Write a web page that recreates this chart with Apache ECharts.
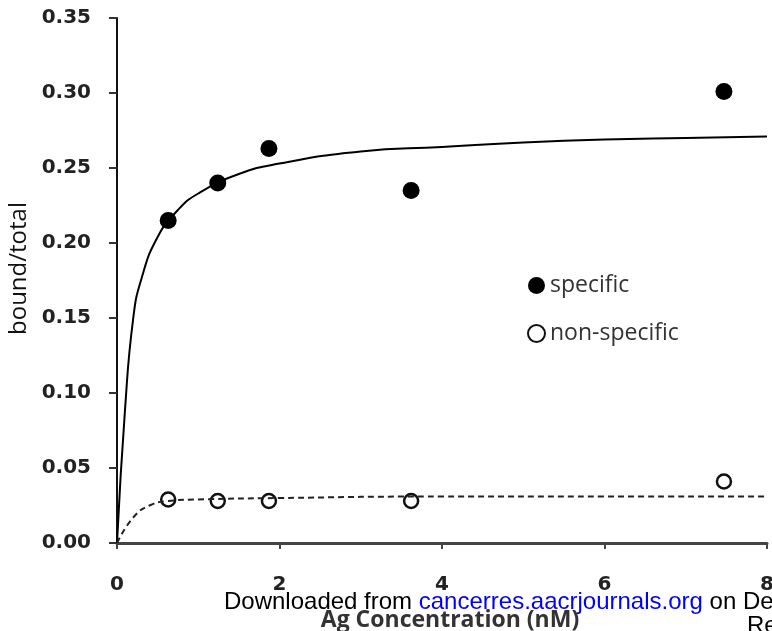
<!DOCTYPE html>
<html lang="en">
<head>
	<meta charset="UTF-8">
	<title>bound/total</title>
	<style type="text/css">
	body,html{
		width: 100%;
		height: 100%;
		margin: 0;
		padding: 0;
		background: #fff;
	}
	#container{
		width: 772px;
		height: 631px;
	}
	</style>
</head>
<body>
	<div id="container"></div>
<script type="text/javascript" src="https://cdn.jsdelivr.net/npm/echarts@6/dist/echarts.min.js"></script>
<script type="text/javascript">
	// measured points (Ag concentration nM, bound/total)
	var specificPts = [[0.63, 0.215], [1.24, 0.24], [1.87, 0.263], [3.62, 0.235], [7.47, 0.301]];
	var nonSpecificPts = [[0.63, 0.029], [1.24, 0.028], [1.87, 0.028], [3.62, 0.028], [7.47, 0.041]];
	// fitted curves
	var specificFit = [[0, 0], [0.1, 0.09], [0.2, 0.15], [0.3, 0.176], [0.5, 0.204], [0.75, 0.222],
		[1, 0.233], [1.5, 0.246], [2, 0.253], [3, 0.261], [4, 0.264], [5, 0.267], [6, 0.269], [7, 0.27], [8, 0.271]];
	var nonSpecificFit = [[0, 0], [0.2, 0.017], [0.4, 0.025], [0.63, 0.028], [1, 0.029], [2, 0.03],
		[4, 0.031], [6, 0.031], [8, 0.031]];
	var xTicks = {min: 0, max: 8, interval: 2};
	var yTicks = {min: 0, max: 0.35, interval: 0.05};

	var font = '"Open Sans", Lato, sans-serif';
	var tickFont = '"DejaVu Sans", sans-serif';
	var option = {
		backgroundColor: '#fff',
		animation: false,
		grid: {left: 117, right: 5, top: 18, bottom: 88, outerBoundsMode: 'none', containLabel: false},
		legend: {
			orient: 'vertical',
			left: 522,
			top: 269,
			itemGap: 25,
			itemWidth: 17,
			itemHeight: 17,
			icon: 'circle',
			textStyle: {fontFamily: font, fontSize: 23, color: '#333'},
			data: ['specific', 'non-specific']
		},
		xAxis: {
			type: 'value',
			min: xTicks.min, max: xTicks.max, interval: xTicks.interval,
			name: 'Ag Concentration (nM)',
			nameLocation: 'middle',
			nameGap: 66,
			nameTextStyle: {fontFamily: font, fontSize: 23, fontWeight: 'bold', color: '#333', padding: [0, 0, 0, 16]},
			axisLine: {lineStyle: {color: '#444', width: 3}},
			axisTick: {length: 6, lineStyle: {color: '#444', width: 2}},
			axisLabel: {margin: 32, fontFamily: tickFont, fontSize: 20, fontWeight: 'bold', color: '#222'},
			splitLine: {show: false}
		},
		yAxis: {
			type: 'value',
			min: yTicks.min, max: yTicks.max, interval: yTicks.interval,
			name: 'bound/total',
			nameLocation: 'middle',
			nameGap: 84,
			nameTextStyle: {fontFamily: font, fontSize: 24, color: '#111', padding: [0, 0, 0, 24]},
			axisLine: {show: true, lineStyle: {color: '#111', width: 2}},
			axisTick: {show: true, length: 8, lineStyle: {color: '#333', width: 2}},
			axisLabel: {
				margin: 26, fontFamily: tickFont, fontSize: 20, fontWeight: 'bold', color: '#222',
				formatter: function (v) { return v.toFixed(2); }
			},
			splitLine: {show: false}
		},
		series: [{
			type: 'line',
			data: specificFit,
			smooth: true,
			showSymbol: false,
			silent: true,
			lineStyle: {color: '#000', width: 2}
		}, {
			type: 'line',
			data: nonSpecificFit,
			smooth: true,
			showSymbol: false,
			silent: true,
			lineStyle: {color: '#222', width: 2, type: [6, 4]}
		}, {
			name: 'specific',
			type: 'scatter',
			data: specificPts,
			symbolSize: 17,
			itemStyle: {color: '#000', opacity: 1}
		}, {
			name: 'non-specific',
			type: 'scatter',
			data: nonSpecificPts,
			symbolSize: 14,
			itemStyle: {color: '#fff', borderColor: '#111', borderWidth: 2.5, opacity: 1}
		}],
		graphic: [{
			type: 'text',
			left: 224,
			top: 590,
			style: {
				text: '{k|Downloaded from }{b|cancerres.aacrjournals.org}{k| on De}',
				rich: {
					k: {fontFamily: '"Liberation Sans", Arial, sans-serif', fontSize: 24, fill: '#000'},
					b: {fontFamily: '"Liberation Sans", Arial, sans-serif', fontSize: 24, fill: '#0000ff'}
				}
			}
		}, {
			type: 'text',
			left: 747,
			top: 614,
			style: {
				text: 'Re',
				fontFamily: '"Liberation Sans", Arial, sans-serif',
				fontSize: 24,
				fill: '#000'
			}
		}]
	};
	var container = echarts.init(document.getElementById('container'));
	container.setOption(option, true);
</script>
</body>
</html>
